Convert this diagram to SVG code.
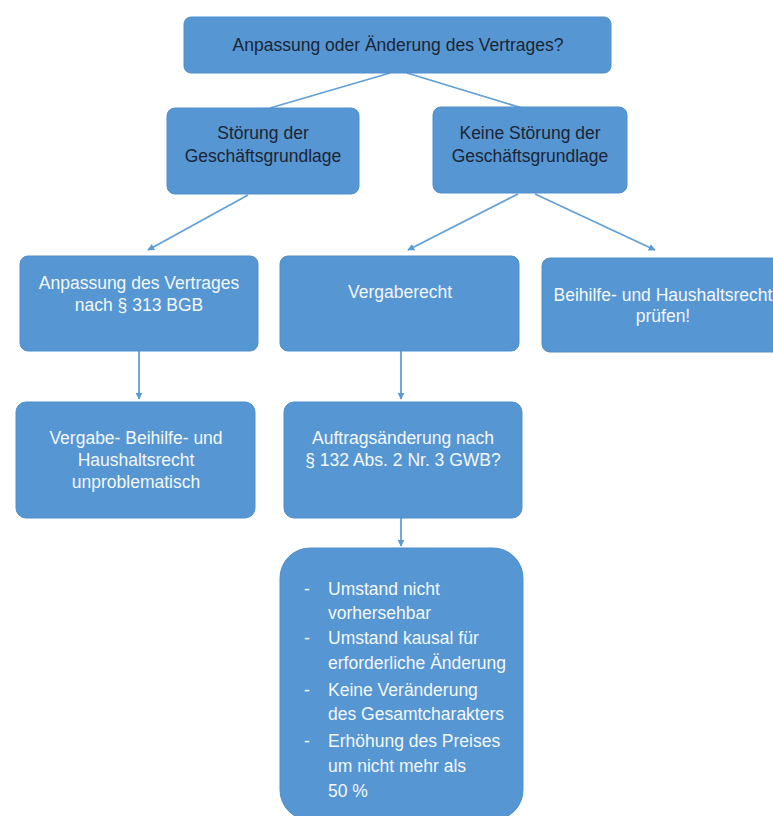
<svg xmlns="http://www.w3.org/2000/svg" width="773" height="816" viewBox="0 0 773 816">
<defs>
<marker id="ah" viewBox="0 0 10 10" refX="9" refY="5" markerWidth="7" markerHeight="7" orient="auto" markerUnits="userSpaceOnUse">
<path d="M0,0 L10,5 L0,10 z" fill="#5b9bd5"/>
</marker>
<style>
.box{fill:#5596d3;stroke:#4f8fcc;stroke-width:1}
.dk{font-family:"Liberation Sans",Arial,sans-serif;font-size:17.5px;fill:#1c2533;text-anchor:middle}
.wt{font-family:"Liberation Sans",Arial,sans-serif;font-size:17.5px;fill:#f4f8fc;text-anchor:middle}
.ls{font-family:"Liberation Sans",Arial,sans-serif;font-size:17.5px;fill:#f4f8fc}
.ln{stroke:#62a0d8;stroke-width:1.8;fill:none}
</style>
</defs>
<rect width="773" height="816" fill="#ffffff"/>
<g id="connectors">
<line class="ln" x1="390" y1="73" x2="270" y2="108"/>
<line class="ln" x1="407" y1="73" x2="522" y2="108"/>
<line class="ln" x1="248" y1="195" x2="148" y2="250" marker-end="url(#ah)"/>
<line class="ln" x1="518" y1="194" x2="408" y2="250" marker-end="url(#ah)"/>
<line class="ln" x1="535" y1="194" x2="655" y2="250" marker-end="url(#ah)"/>
<line class="ln" x1="139" y1="351" x2="139" y2="399" marker-end="url(#ah)"/>
<line class="ln" x1="401" y1="351" x2="401" y2="399" marker-end="url(#ah)"/>
<line class="ln" x1="401" y1="518" x2="401" y2="546" marker-end="url(#ah)"/>
</g>
<g id="n-top">
<rect class="box" x="184" y="17" width="427" height="56" rx="7"/>
<text class="dk" x="398" y="51">Anpassung oder Änderung des Vertrages?</text>
</g>
<g id="n-stoerung">
<rect class="box" x="167" y="108" width="192" height="86" rx="8"/>
<text class="dk" x="263" y="139">Störung der</text>
<text class="dk" x="263" y="162">Geschäftsgrundlage</text>
</g>
<g id="n-keine">
<rect class="box" x="433" y="107" width="194" height="86" rx="8"/>
<text class="dk" x="530" y="139">Keine Störung der</text>
<text class="dk" x="530" y="162">Geschäftsgrundlage</text>
</g>
<g id="n-anpassung">
<rect class="box" x="20" y="256" width="238" height="95" rx="8"/>
<text class="wt" x="139" y="289">Anpassung des Vertrages</text>
<text class="wt" x="139" y="311">nach § 313 BGB</text>
</g>
<g id="n-vergaberecht">
<rect class="box" x="280" y="256" width="239" height="95" rx="8"/>
<text class="wt" x="400" y="298">Vergaberecht</text>
</g>
<g id="n-beihilfe">
<rect class="box" x="542" y="258" width="250" height="94" rx="8"/>
<text class="wt" x="663" y="301">Beihilfe- und Haushaltsrecht</text>
<text class="wt" x="663" y="322">prüfen!</text>
</g>
<g id="n-unproblematisch">
<rect class="box" x="16" y="402" width="239" height="116" rx="10"/>
<text class="wt" x="136" y="444">Vergabe- Beihilfe- und</text>
<text class="wt" x="136" y="466">Haushaltsrecht</text>
<text class="wt" x="136" y="488">unproblematisch</text>
</g>
<g id="n-auftrag">
<rect class="box" x="284" y="402" width="238" height="116" rx="10"/>
<text class="wt" x="403" y="444">Auftragsänderung nach</text>
<text class="wt" x="403" y="466">§ 132 Abs. 2 Nr. 3 GWB?</text>
</g>
<g id="n-kriterien">
<rect class="box" x="280" y="548" width="243" height="272" rx="30"/>
<text class="ls" x="304" y="595">-</text>
<text class="ls" x="328" y="595">Umstand nicht</text>
<text class="ls" x="328" y="619">vorhersehbar</text>
<text class="ls" x="304" y="644">-</text>
<text class="ls" x="328" y="644">Umstand kausal für</text>
<text class="ls" x="328" y="669">erforderliche Änderung</text>
<text class="ls" x="304" y="696">-</text>
<text class="ls" x="328" y="696">Keine Veränderung</text>
<text class="ls" x="328" y="720">des Gesamtcharakters</text>
<text class="ls" x="304" y="747">-</text>
<text class="ls" x="328" y="747">Erhöhung des Preises</text>
<text class="ls" x="328" y="772">um nicht mehr als</text>
<text class="ls" x="328" y="797">50 %</text>
</g>
</svg>
